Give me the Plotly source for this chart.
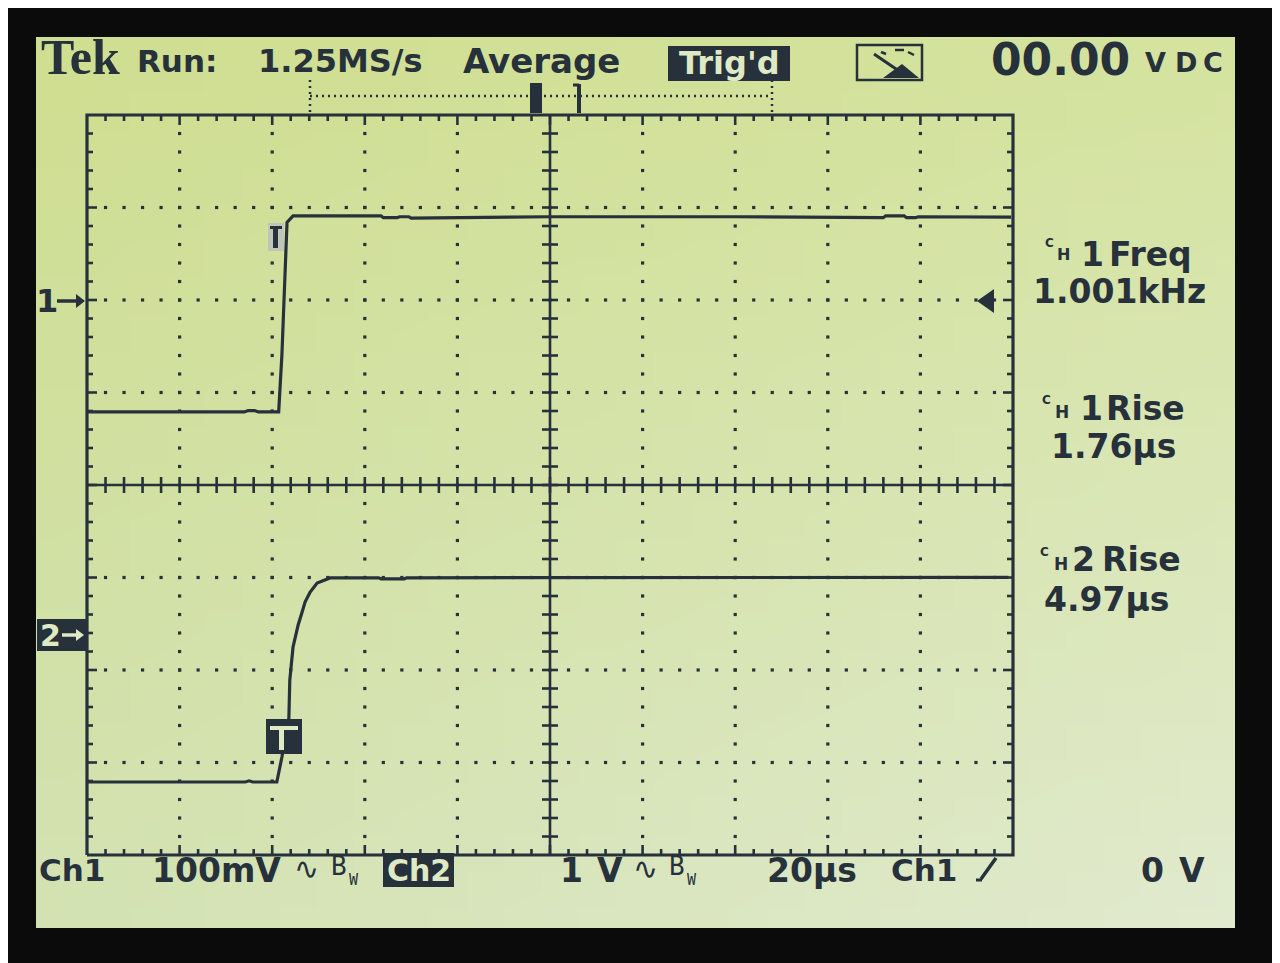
import base64, struct, zlib
import plotly.graph_objects as go

# The page body adds an 8 px margin; the figure is sized/placed to compensate.
OFF = 8
FW, FH = 1280 - OFF, 963 - OFF

# Channel 1: 100 mV/div, time in microseconds (20 us/div)
ch1_time_us = [-100.0, -80.0, -66.0, -65.2, -63.8, -63.0, -58.6, -57.9, -57.2, -56.8, -55.5,
               -36.5, -36.0, -33.0, -32.5, -30.5, -30.0, 0.0, 40.0, 72.0, 72.5, 76.5, 77.0,
               79.0, 79.5, 99.6]
ch1_mV = [-121, -121, -121, -119.5, -119.5, -121, -121, -59, 45, 84, 91,
          91, 89, 89, 90, 90, 88.5, 90, 90, 89, 91, 91, 89,
          89, 90, 89.5]

# Channel 2: 1 V/div
ch2_time_us = [-100.0, -70.0, -65.8, -65.0, -64.2, -59.0, -57.9, -56.4, -56.2, -55.5, -54.4,
               -53.6, -52.9, -51.8, -50.3, -47.5, -37.0, -36.5, -31.5, -31.0, 20.0, 99.0]
ch2_V = [-1.568, -1.568, -1.568, -1.555, -1.568, -1.568, -1.298, -0.876, -0.465, -0.108, 0.129,
         0.259, 0.378, 0.486, 0.584, 0.638, 0.640, 0.628, 0.628, 0.640, 0.643, 0.645]

ch1_volts_per_div_mV = 100
ch2_volts_per_div_V = 1
ch1_ground_div = 2.0      # "1->" marker position (divisions above centre)
ch2_ground_div = -1.643   # "2->" marker position
us_per_div = 20

top_labels = ["Tek", "Run:", "1.25MS/s", "Average", "Trig'd", "00.00", "VDC"]
bottom_labels = ["Ch1", "100mV", "Ch2", "1 V", "20µs", "Ch1", "0 V"]
meas_labels = ["1", "Freq", "1.001kHz", "1", "Rise", "1.76µs", "2", "Rise", "4.97µs"]

# ---------------- styling ----------------
DARK = "#27313b"
LIGHT = "#dfe9c4"
SANS = "DejaVu Sans"


def P(x):
    return (x - OFF) / FW


def Q(y):
    return 1 - (y - OFF) / FH


def png_uri(w, h):
    tl, tr, bl, br = (207, 222, 144), (213, 227, 160), (211, 226, 178), (225, 234, 206)
    rows = []
    for j in range(h):
        v = j / (h - 1)
        row = bytearray(b"\x00")
        for i in range(w):
            u = i / (w - 1)
            for k in range(3):
                top = tl[k] * (1 - u) + tr[k] * u
                bot = bl[k] * (1 - u) + br[k] * u
                row.append(int(round(top * (1 - v) + bot * v)))
        rows.append(bytes(row))
    raw = b"".join(rows)

    def chunk(tag, data):
        return (struct.pack(">I", len(data)) + tag + data +
                struct.pack(">I", zlib.crc32(tag + data) & 0xffffffff))
    png = (b"\x89PNG\r\n\x1a\n" +
           chunk(b"IHDR", struct.pack(">IIBBBBB", w, h, 8, 2, 0, 0, 0)) +
           chunk(b"IDAT", zlib.compress(raw)) + chunk(b"IEND", b""))
    return "data:image/png;base64," + base64.b64encode(png).decode()


# plot area geometry (screen pixels)
X0, X1, Y0, Y1 = 85, 1015, 113, 857
xpad = 2 / ((X1 - X0 - 4) / 10) * us_per_div
ypad = 2 / ((Y1 - Y0 - 4) / 8)
xr = [-5 * us_per_div - xpad, 5 * us_per_div + xpad]
yr = [-4 - ypad, 4 + ypad]

fig = go.Figure()

# graticule dots
gx, gy = [], []
for d in [-4, -3, -2, -1, 1, 2, 3, 4]:
    for k in range(1, 40):
        gx.append(d * us_per_div)
        gy.append(-4 + 0.2 * k)
for d in [-3, -2, -1, 1, 2, 3]:
    for k in range(1, 50):
        gx.append(-100 + 0.2 * us_per_div * k)
        gy.append(d)
fig.add_trace(go.Scatter(x=gx, y=gy, mode="markers",
                         marker=dict(symbol="square", size=3.2, color=DARK, line=dict(width=0)),
                         hoverinfo="skip", showlegend=False))

# border + centre cross + ticks
lx, ly = [], []
px_x = (X1 - X0 - 4) / 10 / us_per_div   # px per us
px_y = (Y1 - Y0 - 4) / 8                 # px per div
for k in range(1, 50):
    x = -100 + 0.2 * us_per_div * k
    major = (k % 5 == 0)
    L = (10 if major else 6) / px_y
    lx += [x, x, None, x, x, None]
    ly += [4, 4 - L, None, -4, -4 + L, None]
    t = 8 / px_y
    lx += [x, x, None]
    ly += [-t, t, None]
for k in range(1, 40):
    y = -4 + 0.2 * k
    major = (k % 5 == 0)
    L = (10 if major else 6) / px_x
    lx += [-100, -100 + L, None, 100, 100 - L, None]
    ly += [y, y, None, y, y, None]
    t = 8 / px_x
    lx += [-t, t, None]
    ly += [y, y, None]
lx += [0, 0, None, -100, 100, None]
ly += [-4, 4, None, 0, 0, None]
fig.add_trace(go.Scatter(x=lx, y=ly, mode="lines", line=dict(color=DARK, width=2.6),
                         hoverinfo="skip", showlegend=False))
fig.add_trace(go.Scatter(x=[-100, 100, 100, -100, -100], y=[-4, -4, 4, 4, -4], mode="lines",
                         line=dict(color=DARK, width=3.2), hoverinfo="skip", showlegend=False))

# waveforms
fig.add_trace(go.Scatter(x=ch1_time_us, y=ch1_mV, yaxis="y2", mode="lines",
                         line=dict(color=DARK, width=3.2), hoverinfo="skip", showlegend=False))
fig.add_trace(go.Scatter(x=ch2_time_us, y=ch2_V, yaxis="y3", mode="lines",
                         line=dict(color=DARK, width=3.2), hoverinfo="skip", showlegend=False))

ann = []


def label(s, xc, yc, size, color=DARK, family=SANS, weight="bold"):
    ann.append(dict(x=P(xc), y=Q(yc), xref="paper", yref="paper", text=s, showarrow=False,
                    xanchor="center", yanchor="middle", borderpad=0,
                    font=dict(family=family, size=size, color=color, weight=weight)))


shapes = []


def rect(x0, y0, x1, y1, fill=DARK, line=None):
    shapes.append(dict(type="rect", xref="paper", yref="paper", x0=P(x0), x1=P(x1),
                       y0=Q(y0), y1=Q(y1), fillcolor=fill,
                       line=dict(width=0) if line is None else line, layer="above"))


def seg(x0, y0, x1, y1, width=3, color=DARK, dash="solid"):
    shapes.append(dict(type="line", xref="paper", yref="paper", x0=P(x0), x1=P(x1),
                       y0=Q(y0), y1=Q(y1), line=dict(color=color, width=width, dash=dash),
                       layer="above"))


def poly(pts, fill=DARK):
    path = "M " + " L ".join(f"{P(x):.5f},{Q(y):.5f}" for x, y in pts) + " Z"
    shapes.append(dict(type="path", xref="paper", yref="paper", path=path, fillcolor=fill,
                       line=dict(width=0), layer="above"))


# ---- top status line ----
label(top_labels[0], 80, 57, 50, family="Liberation Serif")
label(top_labels[1], 177, 61, 31)
label(top_labels[2], 340, 61, 32)
label(top_labels[3], 541, 61, 34)
rect(668, 46, 790, 81)
label(top_labels[4], 729, 63, 32, color=LIGHT)
# meter icon
rect(857, 45, 922, 80, fill="rgba(0,0,0,0)", line=dict(color=DARK, width=2.5))
seg(874, 54, 899, 71, width=3)
poly([(883, 78), (902, 64), (919, 78)])
seg(881, 52, 886, 54, width=2.5)
seg(895, 50, 904, 50, width=2.5)
seg(908, 52, 914, 55, width=2.5)
label(top_labels[5], 1060, 59, 44)
for ch, xc in zip(top_labels[6], [1155, 1186, 1213]):
    label(ch, xc, 62, 27)

# record bar
seg(310, 96, 772, 96, width=2.5, dash="2px,4px")
seg(310, 80, 310, 113, width=2.5, dash="2px,4px")
seg(772, 80, 772, 113, width=2.5, dash="2px,4px")
rect(530, 83, 542, 113)
seg(579, 84, 579, 113, width=4)
seg(573, 85, 579, 85, width=3)

# ---- bottom line ----
label(bottom_labels[0], 72, 870, 31)
label(bottom_labels[1], 216, 870, 33)
label("∿", 306, 868, 30, weight="normal")
label("B", 339, 866, 26, family="DejaVu Sans Mono", weight="normal")
label("W", 354, 880, 15, family="DejaVu Sans Mono", weight="normal")
rect(383, 853, 454, 887)
label(bottom_labels[2], 419, 870, 30, color=LIGHT)
label(bottom_labels[3][0], 571, 870, 33)
label(bottom_labels[3][2], 610, 870, 33)
label("∿", 645, 868, 30, weight="normal")
label("B", 677, 866, 26, family="DejaVu Sans Mono", weight="normal")
label("W", 692, 880, 15, family="DejaVu Sans Mono", weight="normal")
label(bottom_labels[4], 812, 870, 33)
label(bottom_labels[5], 924, 870, 31)
seg(981, 879, 996, 858, width=3.5)
seg(976, 880, 982, 880, width=3)
label(bottom_labels[6][0], 1152, 870, 33)
label(bottom_labels[6][2], 1192, 870, 33)

# ---- measurement panel ----
label("C", 1049, 243, 12)
label("H", 1063, 254, 16)
label(meas_labels[0], 1092, 254, 33)
label(meas_labels[1], 1150, 254, 33)
label(meas_labels[2], 1119, 291, 33)

label("C", 1046, 400, 12)
label("H", 1062, 412, 17)
label(meas_labels[3], 1091, 408, 33)
label(meas_labels[4], 1145, 408, 33)
label(meas_labels[5], 1113, 446, 33)

label("C", 1044, 552, 12)
label("H", 1061, 564, 17)
label(meas_labels[6], 1083, 559, 33)
label(meas_labels[7], 1141, 559, 33)
label(meas_labels[8], 1106, 599, 33)

# ---- channel markers ----
label("1", 47, 301, 32)
seg(57, 301, 78, 301, width=3.5)
poly([(76, 294), (85, 301), (76, 308)])
rect(37, 619, 88, 651)
label("2", 50, 635, 30, color=LIGHT)
seg(62, 635, 78, 635, width=3.5, color=LIGHT)
poly([(76, 629), (84, 635), (76, 641)], fill=LIGHT)

# trigger level marker
poly([(977, 301), (994, 289), (994, 313)])

# trigger markers on the waveforms
rect(268, 223, 284, 251, fill="#bfc6b8")
rect(270, 226, 282, 229)
rect(273, 226, 278, 248)
rect(266, 719, 302, 754)
rect(270, 726, 298, 730, fill=LIGHT)
rect(279, 726, 284, 750, fill=LIGHT)

# LCD background
images = [dict(source=png_uri(32, 24), xref="paper", yref="paper", x=P(36), y=Q(37),
               sizex=P(1235) - P(36), sizey=Q(37) - Q(928), sizing="stretch",
               xanchor="left", yanchor="top", layer="below")]

fig.update_layout(
    width=FW, height=FH, autosize=False,
    margin=dict(l=0, r=0, t=0, b=0),
    paper_bgcolor="#0b0b0b", plot_bgcolor="rgba(0,0,0,0)",
    xaxis=dict(domain=[P(X0), P(X1)], range=xr, visible=False, fixedrange=True),
    yaxis=dict(domain=[Q(Y1), Q(Y0)], range=yr, visible=False, fixedrange=True),
    yaxis2=dict(overlaying="y", visible=False,
                range=[(yr[0] - ch1_ground_div) * ch1_volts_per_div_mV,
                       (yr[1] - ch1_ground_div) * ch1_volts_per_div_mV]),
    yaxis3=dict(overlaying="y", visible=False,
                range=[(yr[0] - ch2_ground_div) * ch2_volts_per_div_V,
                       (yr[1] - ch2_ground_div) * ch2_volts_per_div_V]),
    annotations=ann, shapes=shapes, images=images,
    showlegend=False,
)

fig.write_html("out.html")
